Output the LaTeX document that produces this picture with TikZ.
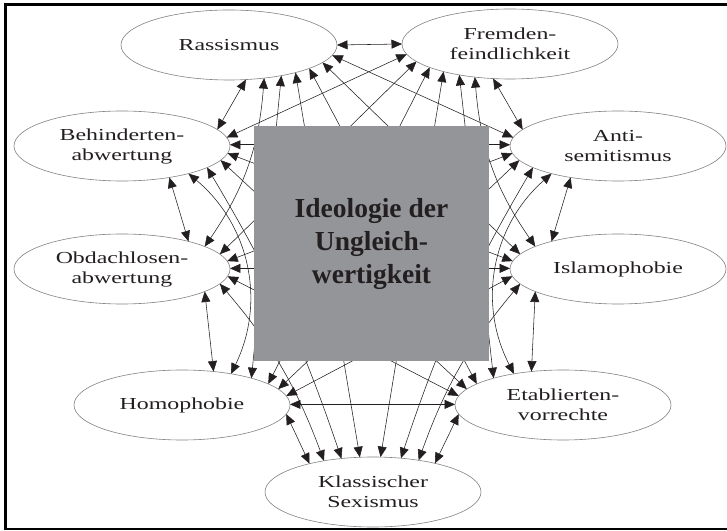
\documentclass[tikz,border=0pt]{standalone}
\usepackage{fontspec}
\setmainfont{Liberation Serif}
\newfontfamily\ellfont[FakeStretch=1.42]{Liberation Serif}
\usetikzlibrary{shapes.geometric,arrows.meta,calc}
\definecolor{ink}{HTML}{231F20}
\definecolor{boxgray}{HTML}{939598}
\definecolor{rim}{HTML}{808285}
\begin{document}
\begin{tikzpicture}[x=1pt,y=1pt,
  ell/.style={ellipse,draw=rim,line width=0.6pt,fill=white,minimum width=216pt,minimum height=70pt,inner sep=0pt,outer sep=0pt,align=center,text=ink,font=\ellfont\fontsize{16.8}{20}\selectfont},
  link/.style={ink,line width=0.55pt,{Triangle[length=10.5pt,width=9pt]}-{Triangle[length=10.5pt,width=9pt]}},
  core/.style={rectangle,fill=boxgray,minimum width=235pt,minimum height=235pt,inner sep=0pt,align=center,text=ink,font=\fontsize{27.5}{33}\selectfont\bfseries}
]
\useasboundingbox (0,0) rectangle (727,530);
\fill[white] (0,0) rectangle (727,530);
% frame
\draw[line width=3.2pt] (5.2,0) -- (5.2,526.9);
\draw[line width=3.4pt] (3.6,525.2) -- (727,525.2);
\draw[line width=2.4pt] (3.6,1.2) -- (727,1.2);
% ellipses
\node[ell] (R) at (229,485) {Rassismus};
\node[ell] (F) at (510,486) {Fremden-\\feindlichkeit};
\node[ell] (B) at (122,384) {Behinderten-\\abwertung};
\node[ell] (A) at (618,384) {Anti-\\semitismus};
\node[ell] (O) at (122,261) {Obdachlosen-\\abwertung};
\node[ell] (I) at (618,261) {Islamophobie};
\node[ell] (H) at (182,125) {Homophobie};
\node[ell] (E) at (563,125) {Etablierten-\\vorrechte};
\node[ell] (K) at (373,38) {Klassischer\\Sexismus};
% connectors
\foreach \u/\a/\v/\b/\k in {
 R/0/F/180/0, R/-81/B/28/0, R/-71/O/40/15, R/-61/H/50/0, R/-52/K/97/0,
 R/-42/E/143/0, R/-30/I/155/0, R/-17/A/166/0,
 F/-163/B/14/0, F/-150/O/25/0, F/-138/H/37/0, F/-128/K/86/0, F/-118/E/130/0,
 F/-109/I/140/-15, F/-99/A/152/0,
 B/2/A/178/0, B/-12/I/167/0, B/-24/E/153/0, B/-38/K/107/6, B/-52/H/63/38, B/-64/O/52/0,
 A/192/O/13/0, A/204/H/27/0, A/218/K/75/-6, A/232/E/117/-38, A/244/I/128/0,
 O/1/I/179/0, O/-12/E/165/0, O/-25/K/117/10, O/-40/H/73/0,
 I/192/H/15/0, I/205/K/65/-10, I/220/E/107/0,
 H/1/E/179/0, H/-15/K/126/0, E/195/K/55/0}
{\draw[link] ($(\u)+(\a:108pt and 35pt)$) to[bend left=\k] ($(\v)+(\b:108pt and 35pt)$);}
% central box
\node[core] (C) at (371.5,286.5) {Ideologie der\\Ungleich-\\wertigkeit};
\end{tikzpicture}
\end{document}
